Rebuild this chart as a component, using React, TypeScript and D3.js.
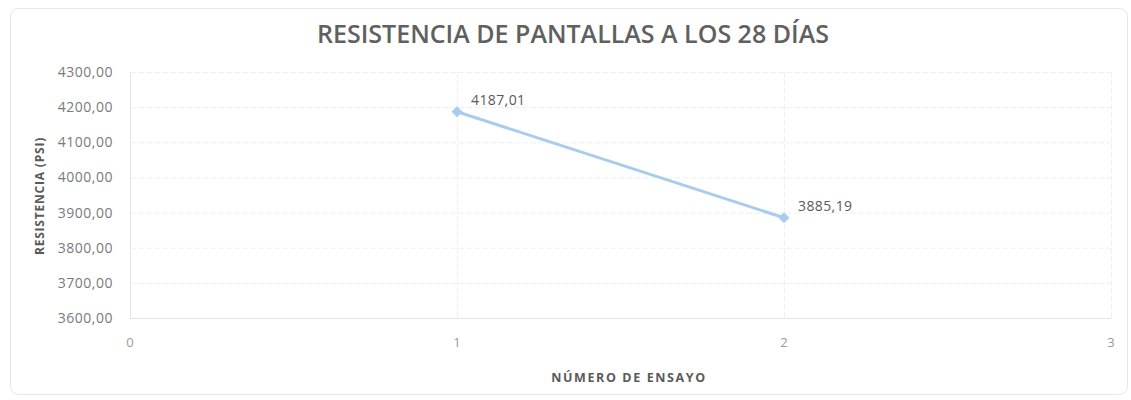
import React from "react";
import * as d3 from "d3";

const ensayos = [1, 2];
const resistencias = [4187.01, 3885.19];
const yTicks = [3600, 3700, 3800, 3900, 4000, 4100, 4200, 4300];
const xTicks = [0, 1, 2, 3];
const title = "RESISTENCIA DE PANTALLAS A LOS 28 DÍAS";
const xTitle = "NÚMERO DE ENSAYO";
const yTitle = "RESISTENCIA (PSI)";

const fmt = (v: number) => v.toFixed(2).replace(".", ",");

export default function App() {
  const W = 1131, H = 400;
  const x = d3.scaleLinear().domain([0, 3]).range([130, 1111]);
  const y = d3.scaleLinear().domain([3600, 4300]).range([318, 72]);
  const pts = ensayos.map((e, i) => [x(e), y(resistencias[i])] as [number, number]);
  const line = d3.line()(pts) || "";
  const font = "'Open Sans', sans-serif";
  const s = 5.5;
  const diamond = `M0,${-s}L${s},0L0,${s}L${-s},0Z`;
  return (
    <svg width={W} height={H} style={{ position: "absolute", left: 0, top: 0 }}>
      <rect x={0} y={0} width={W} height={H} fill="#fff" />
      <rect x={10.5} y={8.5} width={1117} height={386} rx={8} fill="#fff" stroke="#e6e6e6" />
      <text x={573} y={43} textAnchor="middle" fontFamily={font} fontWeight={600} fontSize={25} fill="#606060">{title}</text>
      {yTicks.map((t) => (
        <g key={t}>
          <line x1={130} x2={1111} y1={y(t) + 0.5} y2={y(t) + 0.5} stroke="#f0f0f0" strokeDasharray={t === 3600 ? undefined : "6,2"} />
          <text x={113} y={y(t) + 5} textAnchor="end" fontFamily={font} fontSize={14} letterSpacing={0.5} fill="#7a7a7a">{fmt(t)}</text>
        </g>
      ))}
      {xTicks.map((t) => (
        <g key={t}>
          {t > 0 && <line x1={x(t) + 0.5} x2={x(t) + 0.5} y1={72} y2={318} stroke="#f0f0f0" strokeDasharray="6,2" />}
          <text x={x(t)} y={347} textAnchor="middle" fontFamily={font} fontSize={13} fill="#9a9a9a">{t}</text>
        </g>
      ))}
      <line x1={130.5} x2={130.5} y1={72} y2={318} stroke="#e4e4e4" />
      <line x1={130} x2={1111} y1={318.5} y2={318.5} stroke="#e4e4e4" />
      <path d={line} fill="none" stroke="#A8CCEE" strokeWidth={3} />
      {pts.map((p, i) => (
        <g key={i}>
          <path d={diamond} transform={`translate(${p[0]},${p[1]})`} fill="#A8CCEE" />
          <text x={p[0] + 14} y={p[1] - 7} fontFamily={font} fontSize={14} letterSpacing={0.4} fill="#5a5a5a">{fmt(resistencias[i])}</text>
        </g>
      ))}
      <text x={629} y={382} textAnchor="middle" fontFamily={font} fontWeight={700} fontSize={12.5} letterSpacing={1.6} fill="#5a5a5a">{xTitle}</text>
      <text transform={`translate(44,196) rotate(-90)`} textAnchor="middle" fontFamily={font} fontWeight={700} fontSize={12} letterSpacing={0.8} fill="#5a5a5a">{yTitle}</text>
    </svg>
  );
}
